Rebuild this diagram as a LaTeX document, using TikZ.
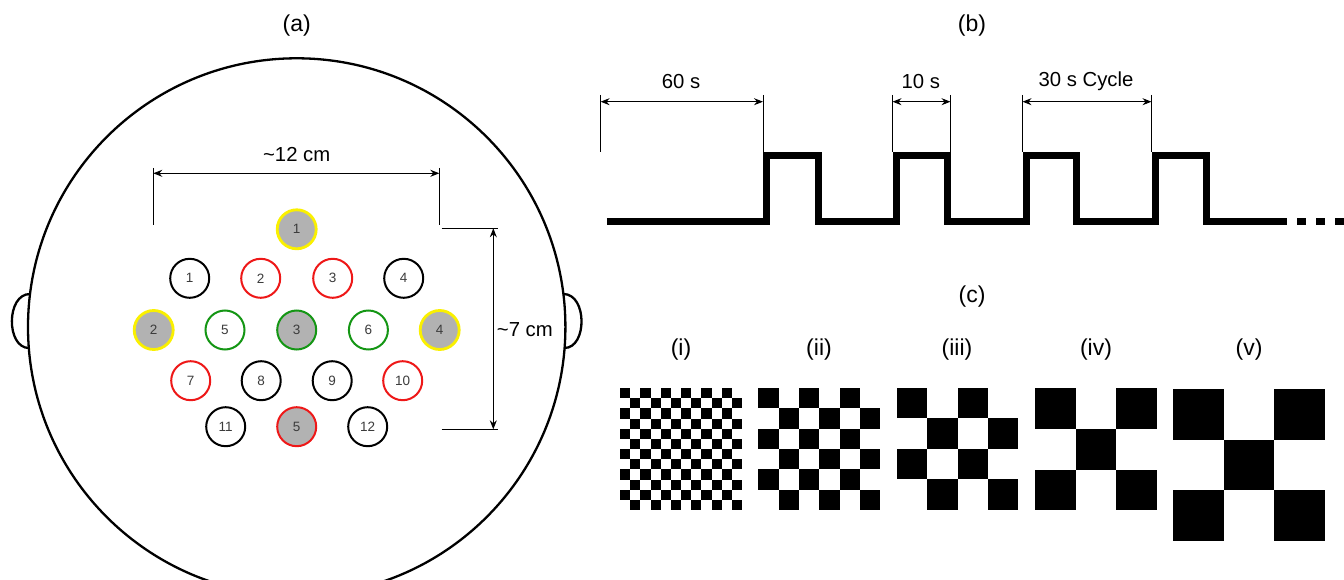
\documentclass[tikz,border=0pt]{standalone}
\usepackage{fontspec}
\setmainfont{Liberation Sans}
\usetikzlibrary{arrows.meta}
\definecolor{ered}{RGB}{238,24,24}
\definecolor{egreen}{RGB}{20,150,20}
\definecolor{eyellow}{RGB}{250,240,0}
\definecolor{efill}{RGB}{178,178,178}
\definecolor{etext}{RGB}{60,60,60}
\tikzset{
  elec/.style={circle,draw=black,line width=2pt,minimum size=39pt,inner sep=0pt,
    font=\fontsize{13.5}{13.5}\selectfont,text=etext},
  eblack/.style={elec,draw=black},
  ered/.style={elec,draw=ered},
  egreen/.style={elec,draw=egreen},
  eyel/.style={elec,draw=eyellow,fill=efill,line width=2.8pt},
  title/.style={font=\fontsize{23}{27}\selectfont,inner sep=0pt},
  dimlabel/.style={font=\fontsize{20.3}{24}\selectfont,inner sep=0pt},
  dimarrow/.style={line width=1pt,{Stealth[length=9pt,width=7pt,inset=3pt]}-{Stealth[length=9pt,width=7pt,inset=3pt]}},
  tick/.style={line width=1.1pt},
  wave/.style={line width=7pt,line join=miter,line cap=butt},
}
\begin{document}
\begin{tikzpicture}[x=1pt,y=-1pt]
\clip (0,0) rectangle (1344,580);
\fill[white] (0,0) rectangle (1344,580);

% ---------- (a) head ----------
\node[title] (ta) at (296.7,26) {(a)};
\draw[line width=2.3pt] (296.7,327) circle[radius=268.7];
\draw[line width=2.3pt] (30,294) .. controls (6,294) and (6,348) .. (29,348);
\draw[line width=2.3pt] (563.4,294) .. controls (587.4,294) and (587.4,348) .. (564.4,348);

% electrodes
\node[eyel] (y1) at (296.7,229.3) {1};
\node[eblack] (b1) at (189.7,278.3) {1};
\node[ered] (r2) at (260.7,278.3) {2};
\node[ered] (r3) at (332.7,278.3) {3};
\node[eblack] (b4) at (403.7,278.3) {4};
\node[eyel] (y2) at (153.7,330) {2};
\node[egreen] (g5) at (225,330) {5};
\node[egreen,fill=efill] (g3) at (296.7,330) {3};
\node[egreen] (g6) at (368.4,330) {6};
\node[eyel] (y4) at (439.7,330) {4};
\node[ered] (r7) at (190.7,380.7) {7};
\node[eblack] (b8) at (261.2,380.7) {8};
\node[eblack] (b9) at (332.2,380.7) {9};
\node[ered] (r10) at (402.7,380.7) {10};
\node[eblack] (b11) at (225.7,426.7) {11};
\node[ered,fill=efill] (r5) at (296.7,426.7) {5};
\node[eblack] (b12) at (367.7,426.7) {12};

% 12 cm dimension
\coordinate (h1t) at (153.3,168);
\coordinate (h1b) at (153.3,225);
\coordinate (h2t) at (439.3,168);
\coordinate (h2b) at (439.3,225);
\coordinate (h1a) at (153.3,173.3);
\coordinate (h2a) at (439.3,173.3);
\draw[tick] (h1t) -- (h1b);
\draw[tick] (h2t) -- (h2b);
\draw[dimarrow] (h1a) -- (h2a);
\node[dimlabel] (l12) at (296.7,155) {\textasciitilde12 cm};

% 7 cm dimension
\coordinate (v1l) at (441.7,228.3);
\coordinate (v1r) at (498.3,228.3);
\coordinate (v2l) at (441.7,429.3);
\coordinate (v2r) at (498.3,429.3);
\coordinate (v1a) at (493.3,228.3);
\coordinate (v2a) at (493.3,429.3);
\draw[tick] (v1l) -- (v1r);
\draw[tick] (v2l) -- (v2r);
\draw[dimarrow] (v1a) -- (v2a);
\node[dimlabel,anchor=west] (l7) at (496.7,330) {\textasciitilde7 cm};

% ---------- (b) timing ----------
\node[title] (tb) at (972,26) {(b)};
\draw[wave] (606.8,221.7) -- (766.4,221.7) -- (766.4,156) -- (818,156) -- (818,221.7)
  -- (896,221.7) -- (896,156) -- (947,156) -- (947,221.7)
  -- (1026,221.7) -- (1026,156) -- (1076.5,156) -- (1076.5,221.7)
  -- (1155,221.7) -- (1155,156) -- (1206,156) -- (1206,221.7) -- (1287,221.7);
\fill (1296.5,218.2) rectangle (1306,225.2);
\fill (1315.8,218.2) rectangle (1325.3,225.2);
\fill (1335,218.2) rectangle (1344.5,225.2);

\coordinate (t0t) at (600.6,95);  \coordinate (t0b) at (600.6,152);
\coordinate (t1t) at (763,95);    \coordinate (t1b) at (763,152);
\coordinate (t2t) at (892.5,95);  \coordinate (t2b) at (892.5,152);
\coordinate (t3t) at (950.5,95);  \coordinate (t3b) at (950.5,152);
\coordinate (t4t) at (1022.5,95); \coordinate (t4b) at (1022.5,152);
\coordinate (t5t) at (1151.5,95); \coordinate (t5b) at (1151.5,152);
\foreach \k in {0,...,5}{\draw[line width=0.9pt] (t\k t) -- (t\k b);}
\coordinate (a0) at (600.6,101.7); \coordinate (a1) at (763,101.7);
\coordinate (a2) at (892.5,101.7); \coordinate (a3) at (950.5,101.7);
\coordinate (a4) at (1022.5,101.7); \coordinate (a5) at (1151.5,101.7);
\draw[dimarrow] (a0) -- (a1);
\draw[dimarrow] (a2) -- (a3);
\draw[dimarrow] (a4) -- (a5);
\node[dimlabel] (l60) at (681,81.7) {60 s};
\node[dimlabel] (l10) at (920.8,81.7) {10 s};
\node[dimlabel] (l30) at (1086,81.7) {30 s Cycle};

% ---------- (c) checkerboards ----------
\node[title] (tc) at (972,296.7) {(c)};
\node[title] (ci) at (681,350) {(i)};
\node[title] (cii) at (819,350) {(ii)};
\node[title] (ciii) at (957,350) {(iii)};
\node[title] (civ) at (1096,350) {(iv)};
\node[title] (cv) at (1249,350) {(v)};

\foreach \n/\bx/\by/\s in {12/620/388/10.1667, 6/758.3/388/20.333, 4/896.7/388/30.4, 3/1035/388.3/40.6, 3/1173.3/389.3/50.55}{
  \foreach \i in {1,...,\n}{
    \foreach \j in {1,...,\n}{
      \ifodd\numexpr\i+\j\relax\else
        \fill (\bx+\i*\s-\s,\by+\j*\s-\s) rectangle ++(\s,\s);
      \fi
    }
  }
}
\end{tikzpicture}
\end{document}
